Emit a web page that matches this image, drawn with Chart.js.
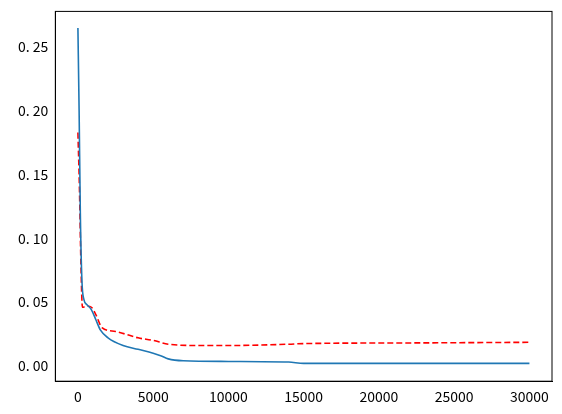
<!DOCTYPE html>
<html><head><meta charset="utf-8">
<script src="https://cdn.jsdelivr.net/npm/chart.js@4"></script>
<style>body{margin:0;background:#fff}</style>
</head><body><canvas id="c" width="562" height="414"></canvas>
<script>
var trainX = [0, 80, 160, 266, 400, 600, 900, 1200, 1500, 2000, 3000, 4000, 5000, 5500, 6000, 7000, 10000, 14000, 15000, 20000, 30000];
var trainY = [0.265, 0.20, 0.12, 0.067, 0.052, 0.048, 0.044, 0.036, 0.028, 0.022, 0.016, 0.013, 0.010, 0.008, 0.0055, 0.004, 0.0035, 0.003, 0.002, 0.002, 0.002];
var testX = [0, 100, 200, 300, 600, 900, 1200, 1600, 2500, 4000, 5000, 6000, 8000, 10000, 14000, 15000, 22000, 30000];
var testY = [0.183, 0.14, 0.08, 0.046, 0.047, 0.046, 0.040, 0.030, 0.027, 0.022, 0.020, 0.017, 0.016, 0.016, 0.017, 0.0175, 0.018, 0.0185];
var xTicks = [0, 5000, 10000, 15000, 20000, 25000, 30000];
var yTicks = [0, 0.05, 0.10, 0.15, 0.20, 0.25];

function pts(xs, ys) { return xs.map(function (x, i) { return {x: x, y: ys[i]}; }); }

Chart.defaults.font.family = '"Noto Sans CJK SC", sans-serif';
Chart.defaults.font.size = 14;
Chart.defaults.color = '#000';

new Chart(document.getElementById('c'), {
	type: 'line',
	data: {
		datasets: [{
			data: pts(trainX, trainY),
			borderColor: '#1f77b4', borderWidth: 1.6, pointRadius: 0, cubicInterpolationMode: 'monotone'
		}, {
			data: pts(testX, testY),
			borderColor: '#ff0000', borderWidth: 1.6, borderDash: [6, 3], pointRadius: 0, cubicInterpolationMode: 'monotone'
		}]
	},
	options: {
		responsive: false, animation: false,
		layout: {padding: {left: 15, right: 10, top: 10, bottom: 6}},
		plugins: {legend: {display: false}, tooltip: {enabled: false}},
		scales: {
			x: {
				type: 'linear', min: -1500, max: 31500,
				afterBuildTicks: function (s) { s.ticks = xTicks.map(function (v) { return {value: v}; }); },
				grid: {display: false, drawTicks: true, tickLength: 4, tickColor: '#000'},
				border: {color: '#000'},
				ticks: {autoSkip: false, maxRotation: 0, callback: function (v) { return String(v); }}
			},
			y: {
				min: -0.012, max: 0.278,
				afterBuildTicks: function (s) { s.ticks = yTicks.map(function (v) { return {value: v}; }); },
				grid: {display: false, drawTicks: true, tickLength: 4, tickColor: '#000'},
				border: {color: '#000'},
				ticks: {callback: function (v) { return v.toFixed(2).replace('.', '. '); }}
			}
		}
	},
	plugins: [{
		id: 'frame',
		afterDraw: function (c) {
			var a = c.chartArea, g = c.ctx;
			g.save(); g.strokeStyle = '#000'; g.lineWidth = 1;
			g.strokeRect(a.left, a.top, a.right - a.left, a.bottom - a.top);
			g.restore();
		}
	}]
});
</script></body></html>
